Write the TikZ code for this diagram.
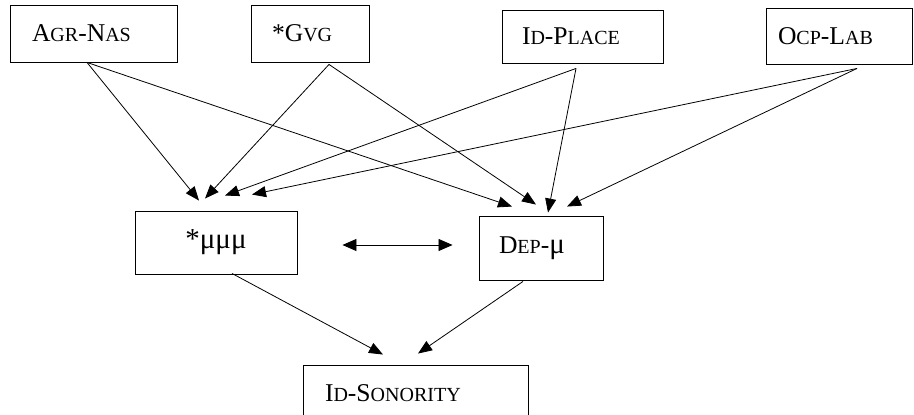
\documentclass[tikz,border=0pt]{standalone}
\usepackage{fontspec}
\setmainfont{Liberation Serif}
\usetikzlibrary{arrows.meta}
\newcommand{\smc}[1]{{\fontsize{20}{24}\selectfont #1}}
\newcommand{\bigmu}{{\fontsize{29}{34}\selectfont μ}}

\begin{document}
\begin{tikzpicture}[x=1pt, y=-1pt,
  cbox/.style={draw, line width=0.9pt, align=left, inner xsep=21pt, inner ysep=0pt, font=\fontsize{25.6}{30}\selectfont},
  link/.style={line width=0.8pt, -{Triangle[length=14pt,width=11pt]}},
  both/.style={line width=0.8pt, {Triangle[length=14pt,width=12pt]}-{Triangle[length=14pt,width=12pt]}}]
\useasboundingbox (0,0) rectangle (914,415);
% top row
\node[cbox, inner xsep=22pt, text width=123pt, minimum height=57pt] (agrnas) at (93.5,33.5) {A\smc{GR}-N\smc{AS}};
\node[cbox, text width=76pt, minimum height=57pt] (gvg) at (310,33.5) {*G\smc{VG}};
\node[cbox, inner xsep=20pt, text width=121pt, minimum height=53pt] (idplace) at (582.5,36.5) {I\smc{D}-P\smc{LACE}};
\node[cbox, inner xsep=12pt, text width=122pt, minimum height=56pt] (ocplab) at (839,36) {O\smc{CP}-L\smc{AB}};
% middle row
\node[cbox, align=center, text width=120pt, minimum height=63pt, font=\fontsize{29}{34}\selectfont] (mumumu) at (216,242.5) {*μμμ};
\node[cbox, inner xsep=20pt, text width=84pt, minimum height=64pt] (depmu) at (541,248) {D\smc{EP}-\bigmu};
% bottom
\node[cbox, inner xsep=22pt, text width=181pt, minimum height=56pt] (idson) at (415.5,393) {I\smc{D}-S\smc{ONORITY}};
% into *mumumu
\draw[link] ([xshift=-6.5pt]agrnas.south) -- ([xshift=-17pt,yshift=10pt]mumumu.north);
\draw[link] ([xshift=19pt,yshift=-2pt]gvg.south) -- ([xshift=-11pt,yshift=12pt]mumumu.north);
\draw[link] ([xshift=-6.5pt,yshift=-5pt]idplace.south) -- ([xshift=9pt,yshift=15pt]mumumu.north);
\draw[link] ([xshift=18pt,yshift=-4pt]ocplab.south) -- ([xshift=36pt,yshift=16pt]mumumu.north);
% into Dep-mu
\draw[link] ([xshift=-6.5pt]agrnas.south) -- ([xshift=-29pt,yshift=9pt]depmu.north);
\draw[link] ([xshift=19pt,yshift=-2pt]gvg.south) -- ([xshift=-5pt,yshift=11pt]depmu.north);
\draw[link] ([xshift=-6.5pt,yshift=-5pt]idplace.south) -- ([xshift=7pt,yshift=3pt]depmu.north);
\draw[link] ([xshift=18pt,yshift=-4pt]ocplab.south) -- ([xshift=26pt,yshift=9pt]depmu.north);
% between the two
\draw[both] ([xshift=45pt,yshift=-2.5pt]mumumu.east) -- ([xshift=-26pt,yshift=3pt]depmu.west);
% into Id-Sonority
\draw[link] ([xshift=16pt,yshift=1pt]mumumu.south) -- ([xshift=-32.5pt,yshift=10pt]idson.north);
\draw[link] ([xshift=-18pt,yshift=-1pt]depmu.south) -- ([xshift=2.5pt,yshift=11pt]idson.north);
\end{tikzpicture}
\end{document}
